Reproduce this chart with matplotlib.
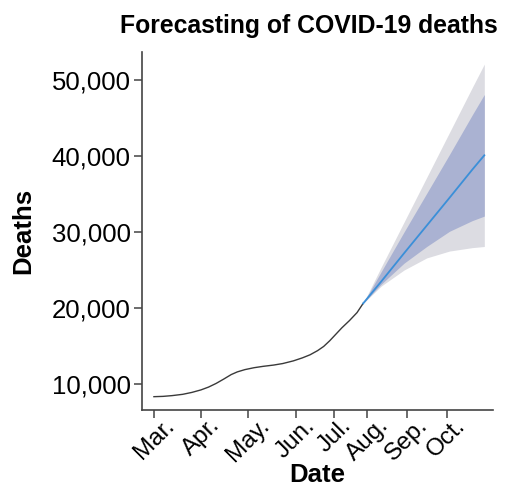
import matplotlib
matplotlib.use("Agg")
import matplotlib.pyplot as plt
from matplotlib.ticker import FuncFormatter

plt.rcParams['font.family'] = ['Liberation Sans', 'DejaVu Sans']

# observed deaths (x = days since 1 Mar)
obs_day = [0, 6, 12, 19, 25, 31, 36, 41, 46, 51, 55, 60, 66, 72, 79, 85, 92, 98,
           103, 108, 112, 116, 120, 124, 129, 134, 138]
obs_deaths = [8340, 8380, 8480, 8650, 8900, 9230, 9600, 10080, 10650, 11250, 11600,
              11900, 12150, 12330, 12500, 12700, 13050, 13450, 13850, 14400, 14950,
              15700, 16550, 17400, 18350, 19400, 20600]

# forecast
fc_day = [138, 150, 165, 180, 195, 210, 218]
fc_mean = [20600, 23500, 27200, 30850, 34500, 38200, 40100]
fc_inner_lo = [20600, 23150, 25900, 28100, 30100, 31500, 32100]
fc_inner_hi = [20600, 24800, 30000, 35100, 40200, 45400, 48100]
fc_outer_lo = [20600, 22900, 25000, 26600, 27500, 27950, 28100]
fc_outer_hi = [20600, 25400, 31300, 37200, 43100, 49000, 52100]

month_pos = [0, 31, 62.2, 93.5, 119, 140.8, 166.8, 193.2]
month_labels = ["Mar.", "Apr.", "May.", "Jun.", "Jul.", "Aug.", "Sep.", "Oct."]
y_ticks = [10000, 20000, 30000, 40000, 50000]

fig = plt.figure(figsize=(5.07, 4.90), dpi=100)
ax = fig.add_axes([0.280, 0.163, 0.692, 0.731])

ax.fill_between(fc_day, fc_outer_lo, fc_outer_hi, color="#dcdce2", lw=0)
ax.fill_between(fc_day, fc_inner_lo, fc_inner_hi, color="#aab2d2", lw=0)
ax.plot(obs_day, obs_deaths, color="#3a3a3a", lw=1.0)
ax.plot(fc_day, fc_mean, color="#3b8fd8", lw=1.3)

ax.set_xlim(-7.9, 223.6)
ax.set_ylim(6570, 53700)

ax.set_xticks(month_pos)
ax.set_xticklabels(month_labels, rotation=45, ha="center")
ax.set_yticks(y_ticks)
ax.yaxis.set_major_formatter(FuncFormatter(lambda v, p: f"{int(v):,}"))

for s in ["top", "right"]:
    ax.spines[s].set_visible(False)
for s in ["left", "bottom"]:
    ax.spines[s].set_color("#444444")
    ax.spines[s].set_linewidth(1.2)

ax.tick_params(axis="both", color="#444444", width=1.1, length=6)
ax.tick_params(axis="y", labelsize=18.5, pad=2)
ax.tick_params(axis="x", labelsize=17.5, pad=-3)

ax.set_xlabel("Date", fontsize=18.5, fontweight="bold")
ax.xaxis.set_label_coords(0.5, -0.148)
ax.set_ylabel("Deaths", fontsize=18.5, fontweight="bold", labelpad=12)
fig.text(0.6085, 0.947, "Forecasting of COVID-19 deaths", fontsize=17.8,
         fontweight="bold", ha="center", va="center")

fig.savefig("out.png", dpi=100)
